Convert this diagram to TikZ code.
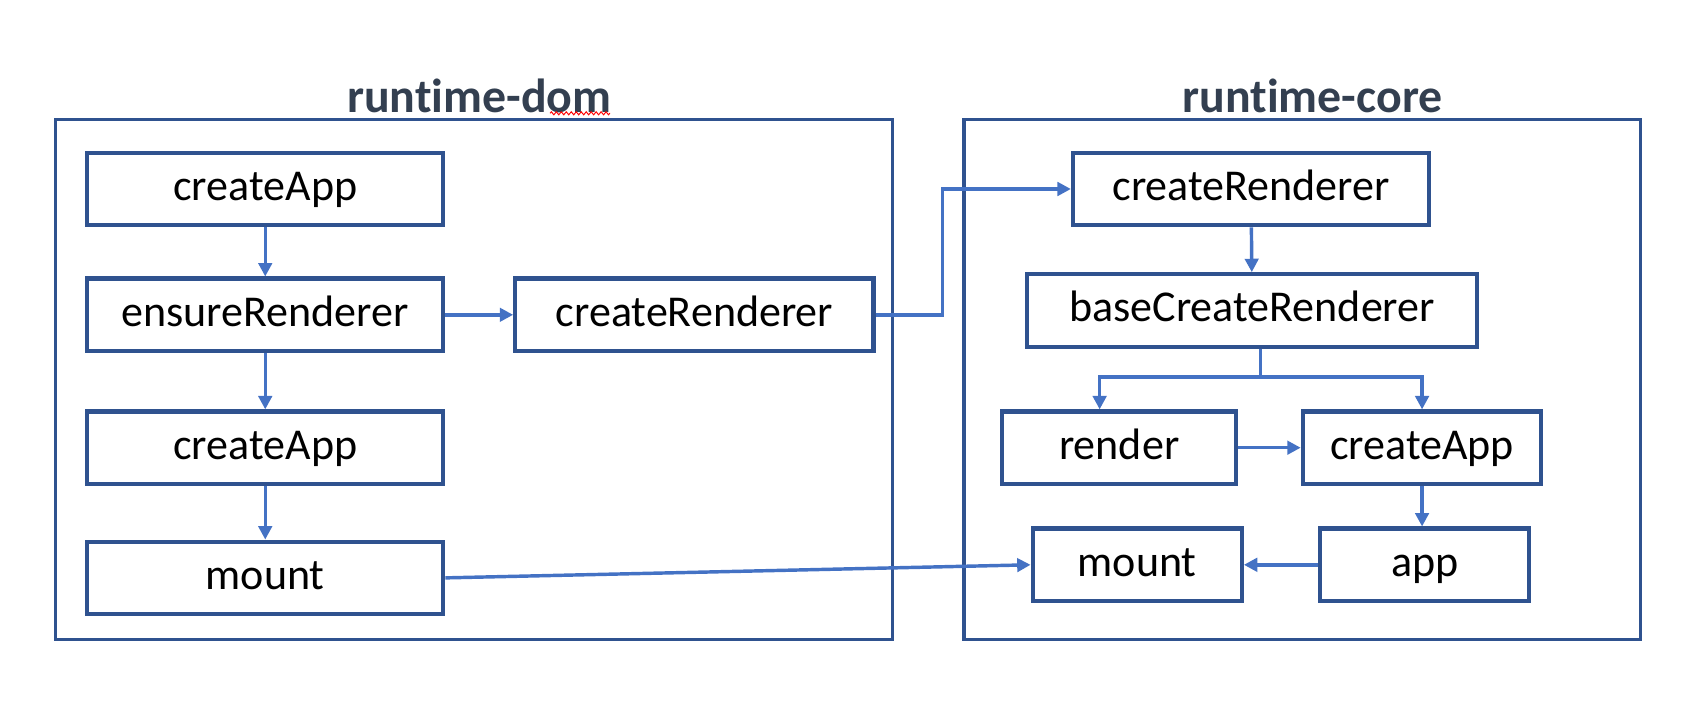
\documentclass[tikz,border=0pt]{standalone}
\usepackage{fontspec}
\setmainfont{Carlito}[Ligatures=NoCommon]
\usetikzlibrary{arrows.meta,decorations.pathmorphing}
\definecolor{boxblue}{RGB}{47,82,143}
\definecolor{linkblue}{RGB}{68,114,196}
\definecolor{titlegray}{RGB}{51,63,80}
\begin{document}
\begin{tikzpicture}[x=0.02cm,y=-0.02cm,
  panel/.style={draw=boxblue,line width=1.7pt},
  func/.style={draw=boxblue,line width=2.2pt,inner sep=0pt,minimum height=1.33cm,text height=15pt,text depth=3pt,font=\fontsize{23}{27}\selectfont},
  title/.style={font=\fontsize{25}{29}\selectfont\bfseries,text=titlegray},
  link/.style={draw=linkblue,line width=1.8pt,-{Triangle[width=7pt,length=7pt]}}]
\useasboundingbox (0,0) rectangle (1568,646);
% panels
\draw[panel] (51,110) rectangle (819,587);
\draw[panel] (885,110) rectangle (1506,587);
\node[title] (domtitle) at (440,88) {runtime-dom};
\node[title] (coretitle) at (1205,88) {runtime-core};
\draw[red,line width=0.5pt,decorate,decoration={zigzag,amplitude=0.8pt,segment length=2.6pt}] (505,104) -- (560,104);
% runtime-dom
\node[func,minimum width=6.54cm] (domapp) at (243.5,173.5) {createApp};
\node[func,minimum width=6.54cm] (ensure) at (243.5,289) {ensureRenderer};
\node[func,minimum width=6.58cm] (domrend) at (637.5,289) {createRenderer};
\node[func,minimum width=6.54cm] (domapp2) at (243.5,411) {createApp};
\node[func,minimum width=6.54cm] (dommount) at (243.5,530.5) {mount};
% runtime-core
\node[func,minimum width=6.54cm] (corerend) at (1148.5,173.5) {createRenderer};
\node[func,minimum width=8.26cm] (base) at (1149.5,285) {baseCreateRenderer};
\node[func,minimum width=4.3cm] (render) at (1027.5,411) {render};
\node[func,minimum width=4.38cm] (coreapp) at (1305.5,411) {createApp};
\node[func,minimum width=3.84cm] (coremount) at (1044,518.5) {mount};
\node[func,minimum width=3.84cm] (app) at (1308,518.5) {app};
% links
\coordinate (bend) at (865,289);
\coordinate (split) at (1157,346);
\draw[link] (domapp) -- (ensure);
\draw[link] (ensure) -- (domrend);
\draw[link] (ensure) -- (domapp2);
\draw[link] (domapp2) -- (dommount);
\draw[link] (domrend.east) -- (bend) |- (corerend.west);
\draw[link] (corerend) -- (base);
\draw[link] (base.south -| split) -- (split) -| ([xshift=-0.36cm]render.north);
\draw[link] (split) -| (coreapp.north);
\draw[link] (render) -- (coreapp);
\draw[link] (coreapp.south) -- (coreapp.south |- app.north);
\draw[link] (app) -- (coremount);
\draw[link] (dommount.east) -- (coremount.west);
\end{tikzpicture}
\end{document}
